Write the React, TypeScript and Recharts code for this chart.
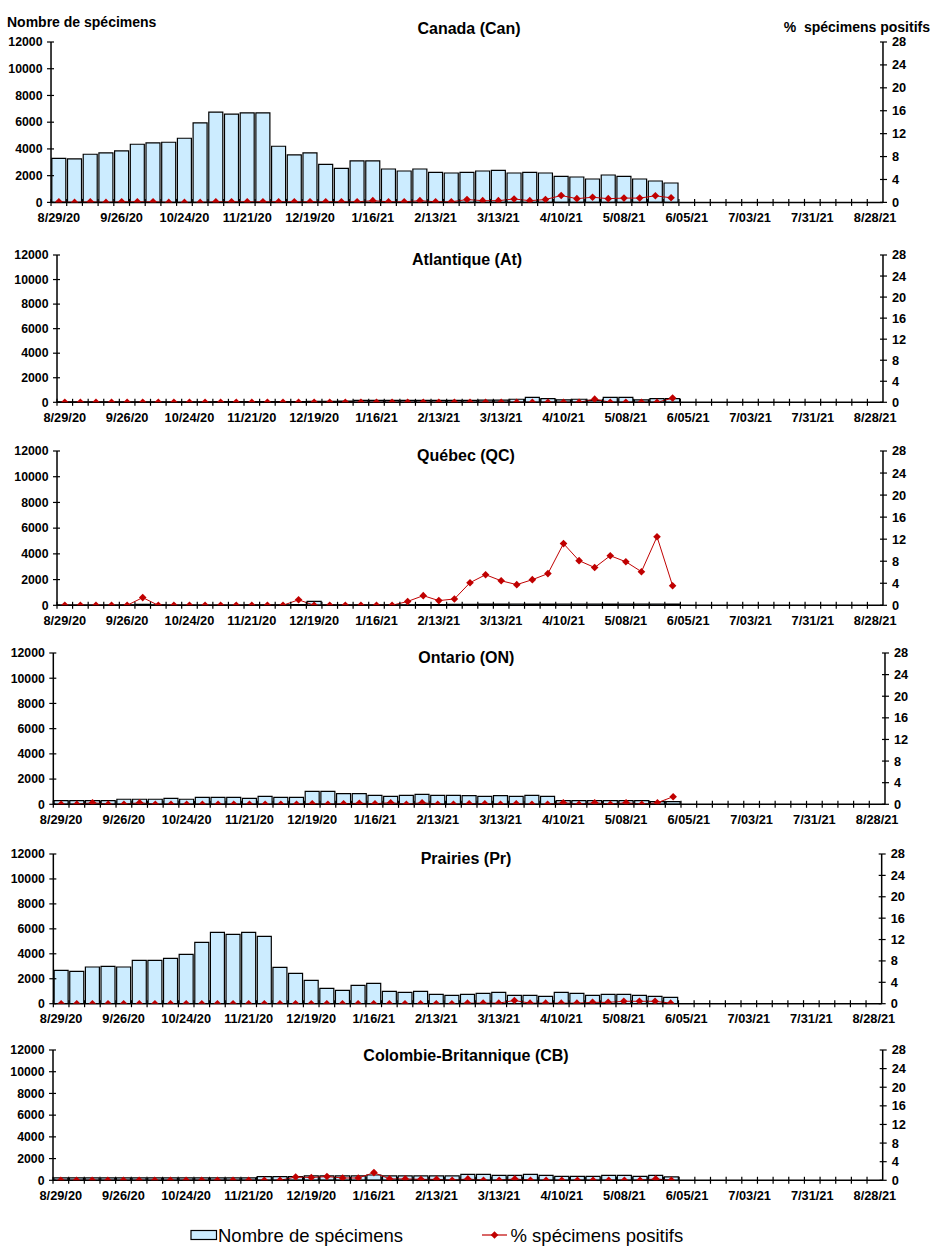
import React from 'react';
import { ComposedChart, Bar, Line, XAxis, YAxis } from 'recharts';

const FONT = '"Liberation Sans", Arial, Helvetica, sans-serif';
const BAR_FILL = '#CCECFF';
const LINE_COLOR = '#C00000';

const weeks = [
  '8/29/20', '9/05/20', '9/12/20', '9/19/20', '9/26/20', '10/03/20', '10/10/20', '10/17/20',
  '10/24/20', '10/31/20', '11/07/20', '11/14/20', '11/21/20', '11/28/20', '12/05/20', '12/12/20',
  '12/19/20', '12/26/20', '1/02/21', '1/09/21', '1/16/21', '1/23/21', '1/30/21', '2/06/21',
  '2/13/21', '2/20/21', '2/27/21', '3/06/21', '3/13/21', '3/20/21', '3/27/21', '4/03/21',
  '4/10/21', '4/17/21', '4/24/21', '5/01/21', '5/08/21', '5/15/21', '5/22/21', '5/29/21',
  '6/05/21', '6/12/21', '6/19/21', '6/26/21', '7/03/21', '7/10/21', '7/17/21', '7/24/21',
  '7/31/21', '8/07/21', '8/14/21', '8/21/21', '8/28/21',
];

const leftTicks = [0, 2000, 4000, 6000, 8000, 10000, 12000];
const rightTicks = [0, 4, 8, 12, 16, 20, 24, 28];

const canCounts = [3300, 3250, 3600, 3700, 3850, 4350, 4450, 4500, 4800, 5950, 6750, 6600, 6700, 6700, 4200, 3550, 3700, 2850, 2550, 3100, 3100, 2500, 2350, 2500, 2250, 2200, 2250, 2350, 2400, 2200, 2250, 2200, 1950, 1900, 1750, 2050, 1950, 1750, 1600, 1450];
const canPct = [0.1, 0, 0.1, 0, 0.1, 0.1, 0.1, 0, 0, 0, 0.1, 0.1, 0.1, 0.1, 0.1, 0.1, 0.1, 0.1, 0.1, 0.1, 0.3, 0.1, 0.1, 0.3, 0.1, 0.1, 0.5, 0.3, 0.3, 0.6, 0.3, 0.5, 1.2, 0.65, 0.9, 0.65, 0.75, 0.75, 1.15, 0.8];

const atCounts = [40, 40, 40, 40, 40, 40, 40, 40, 40, 40, 50, 50, 60, 60, 60, 60, 70, 80, 100, 150, 160, 160, 160, 150, 150, 160, 160, 170, 170, 250, 400, 300, 200, 250, 150, 400, 400, 200, 300, 300];
const atPct = [0, 0, 0, 0, 0, 0, 0, 0, 0, 0, 0, 0, 0, 0, 0, 0, 0, 0, 0, 0, 0, 0, 0, 0, 0, 0, 0, 0, 0, 0, 0, 0, 0, 0, 0.6, 0, 0, 0, 0, 0.8];

const qcCounts = [20, 20, 20, 20, 30, 80, 30, 20, 20, 20, 20, 20, 30, 40, 40, 60, 300, 40, 30, 30, 30, 30, 40, 50, 60, 70, 80, 90, 90, 100, 90, 90, 100, 100, 100, 90, 100, 100, 100, 90];
const qcPct = [0, 0, 0, 0, 0, 1.4, 0, 0, 0, 0, 0, 0, 0, 0, 0, 1.0, 0, 0, 0, 0, 0, 0, 0.7, 1.75, 0.85, 1.15, 4.1, 5.55, 4.45, 3.75, 4.65, 5.75, 11.2, 8.1, 6.85, 9.0, 7.9, 6.1, 12.45, 3.55];

const onCounts = [290, 290, 290, 290, 400, 400, 400, 475, 400, 555, 555, 555, 475, 635, 555, 555, 1030, 1030, 845, 845, 715, 635, 715, 790, 715, 715, 690, 635, 690, 635, 715, 635, 290, 290, 290, 290, 290, 290, 210, 210];
const onPct = [0, 0, 0.3, 0, 0, 0.3, 0, 0, 0, 0, 0, 0, 0, 0, 0, 0, 0.1, 0, 0.1, 0.2, 0.1, 0.3, 0, 0.3, 0, 0, 0.1, 0.1, 0, 0.1, 0, 0, 0.3, 0, 0.3, 0, 0.3, 0, 0.3, 1.4];

const prCounts = [2670, 2590, 2940, 2990, 2940, 3470, 3470, 3630, 3950, 4915, 5715, 5555, 5715, 5395, 2910, 2430, 1870, 1230, 1070, 1470, 1630, 990, 910, 990, 750, 670, 750, 830, 910, 670, 670, 590, 910, 830, 670, 750, 750, 670, 590, 510];
const prPct = [0, 0, 0, 0, 0, 0, 0, 0, 0, 0, 0, 0, 0, 0, 0, 0, 0, 0, 0, 0, 0, 0, 0, 0, 0, 0, 0.1, 0.1, 0.1, 0.6, 0.1, 0.1, 0.1, 0.1, 0.25, 0.25, 0.45, 0.45, 0.45, 0.1];

const cbCounts = [215, 215, 215, 215, 215, 215, 215, 215, 215, 215, 215, 215, 215, 340, 340, 340, 400, 400, 400, 400, 490, 400, 400, 400, 400, 400, 550, 550, 460, 460, 550, 460, 370, 370, 370, 460, 460, 370, 460, 310];
const cbPct = [0, 0, 0, 0, 0, 0, 0, 0, 0, 0, 0, 0, 0, 0, 0, 0.7, 0.6, 0.8, 0.5, 0.5, 1.65, 0.3, 0.3, 0.2, 0.2, 0, 0.3, 0, 0, 0.3, 0, 0, 0, 0, 0, 0, 0, 0, 0.3, 0];

type Panel = {
  title: string;
  titleX: number;
  titleY: number;
  left: number;
  right: number;
  top: number;
  bottom: number;
  counts: number[];
  pct: number[];
};

const panels: Panel[] = [
  { title: 'Canada (Can)', titleX: 469, titleY: 33.5, left: 51, right: 883, top: 42.3, bottom: 202.7, counts: canCounts, pct: canPct },
  { title: 'Atlantique (At)', titleX: 467, titleY: 265, left: 57, right: 883, top: 255, bottom: 402.3, counts: atCounts, pct: atPct },
  { title: 'Québec (QC)', titleX: 466, titleY: 460.5, left: 57, right: 883, top: 450.7, bottom: 605, counts: qcCounts, pct: qcPct },
  { title: 'Ontario (ON)', titleX: 466.3, titleY: 663.3, left: 53.3, right: 885, top: 652.7, bottom: 804, counts: onCounts, pct: onPct },
  { title: 'Prairies (Pr)', titleX: 466, titleY: 864, left: 53.3, right: 881.7, top: 854, bottom: 1003.7, counts: prCounts, pct: prPct },
  { title: 'Colombie-Britannique (CB)', titleX: 466, titleY: 1060.7, left: 53, right: 882.7, top: 1050, bottom: 1180.3, counts: cbCounts, pct: cbPct },
];

function buildData(counts: number[], pct: number[]) {
  return weeks.map((w, i) => ({
    week: w,
    count: i < counts.length ? counts[i] : null,
    pct: i < pct.length ? pct[i] : null,
  }));
}

const renderDiamond = (props: any) => {
  const { cx, cy, index, value } = props;
  if (cx == null || cy == null || value == null || Number.isNaN(cy)) {
    return <g key={`d-${index}`} />;
  }
  const r = 3.8;
  return (
    <path
      key={`d-${index}`}
      d={`M${cx},${cy - r}L${cx + r},${cy}L${cx},${cy + r}L${cx - r},${cy}Z`}
      fill={LINE_COLOR}
      stroke="none"
    />
  );
};

const M_TOP = 10;
const X_H = 30;
const YW = 40;

function PanelChart({ p }: { p: Panel }) {
  const plotH = p.bottom - p.top;
  const height = M_TOP + plotH + X_H;
  const bw = (p.right - p.left) / weeks.length;
  const axisY = M_TOP + plotH;
  const data = buildData(p.counts, p.pct);

  const xTick = (t: any) => {
    const idx = t.index ?? t.payload?.index ?? 0;
    const x = t.x;
    return (
      <g>
        <line x1={x - bw / 2} x2={x - bw / 2} y1={axisY - 3.5} y2={axisY + 3.5} stroke="#000" strokeWidth={1.2} />
        {idx % 4 === 0 ? (
          <text x={x} y={axisY + 19.8} textAnchor="middle" fontFamily={FONT} fontWeight="bold" fontSize={12.8} fill="#000">
            {t.payload.value}
          </text>
        ) : null}
      </g>
    );
  };

  const leftTick = (t: any) => (
    <g>
      <line x1={p.left - 4} x2={p.left + 3} y1={t.y} y2={t.y} stroke="#000" strokeWidth={1.2} />
      <text x={p.left - 8.5} y={t.y + 4.3} textAnchor="end" fontFamily={FONT} fontWeight="bold" fontSize={12.3} fill="#000">
        {t.payload.value}
      </text>
    </g>
  );

  const rightTick = (t: any) => (
    <g>
      <line x1={p.right - 3} x2={p.right + 4} y1={t.y} y2={t.y} stroke="#000" strokeWidth={1.2} />
      <text x={p.right + 9} y={t.y + 4.5} textAnchor="start" fontFamily={FONT} fontWeight="bold" fontSize={12.8} fill="#000">
        {t.payload.value}
      </text>
    </g>
  );

  return (
    <div style={{ position: 'absolute', left: 0, top: p.top - M_TOP }}>
      <ComposedChart
        width={934}
        height={height}
        data={data}
        margin={{ top: M_TOP, bottom: 0, left: p.left - YW, right: 934 - p.right - YW }}
        barCategoryGap={0.8}
      >
        <XAxis
          dataKey="week"
          interval={0}
          height={X_H}
          axisLine={{ stroke: '#000', strokeWidth: 1.5 }}
          tickLine={false}
          tick={xTick}
        />
        <YAxis
          yAxisId="left"
          orientation="left"
          width={YW}
          domain={[0, 12000]}
          ticks={leftTicks}
          interval={0}
          axisLine={{ stroke: '#000', strokeWidth: 1.5 }}
          tickLine={false}
          tick={leftTick}
          allowDataOverflow
        />
        <YAxis
          yAxisId="right"
          orientation="right"
          width={YW}
          domain={[0, 28]}
          ticks={rightTicks}
          interval={0}
          axisLine={{ stroke: '#000', strokeWidth: 1.5 }}
          tickLine={false}
          tick={rightTick}
          allowDataOverflow
        />
        <Bar yAxisId="left" dataKey="count" fill={BAR_FILL} stroke="#000" strokeWidth={1.2} isAnimationActive={false} />
        <Line
          yAxisId="right"
          dataKey="pct"
          stroke={LINE_COLOR}
          strokeWidth={1}
          dot={renderDiamond}
          activeDot={false}
          isAnimationActive={false}
          connectNulls={false}
        />
      </ComposedChart>
    </div>
  );
}

export default function App() {
  return (
    <div style={{ position: 'absolute', left: 0, top: 0, width: 934, height: 1257, background: '#fff', overflow: 'hidden' }}>
      {panels.map((p) => (
        <PanelChart key={p.title} p={p} />
      ))}
      <svg width={934} height={1257} style={{ position: 'absolute', left: 0, top: 0, pointerEvents: 'none' }}>
        <text x={7} y={26.5} fontFamily={FONT} fontWeight="bold" fontSize={14} fill="#000">
          Nombre de spécimens
        </text>
        <text x={930} y={32} textAnchor="end" fontFamily={FONT} fontWeight="bold" fontSize={14} fill="#000" xmlSpace="preserve">
          {'%  spécimens positifs'}
        </text>
        {panels.map((p) => (
          <text key={`t-${p.title}`} x={p.titleX} y={p.titleY} textAnchor="middle" fontFamily={FONT} fontWeight="bold" fontSize={16} fill="#000">
            {p.title}
          </text>
        ))}
        <rect x={191} y={1230.5} width={25.5} height={9} fill={BAR_FILL} stroke="#000" strokeWidth={1.2} />
        <text x={218} y={1241.5} fontFamily={FONT} fontSize={18.5} fill="#000">
          Nombre de spécimens
        </text>
        <line x1={482} x2={507} y1={1235} y2={1235} stroke={LINE_COLOR} strokeWidth={1.2} />
        <path d="M494.5,1231.2L498.3,1235L494.5,1238.8L490.7,1235Z" fill={LINE_COLOR} />
        <text x={510.5} y={1241.5} fontFamily={FONT} fontSize={18.5} fill="#000">
          % spécimens positifs
        </text>
      </svg>
    </div>
  );
}
